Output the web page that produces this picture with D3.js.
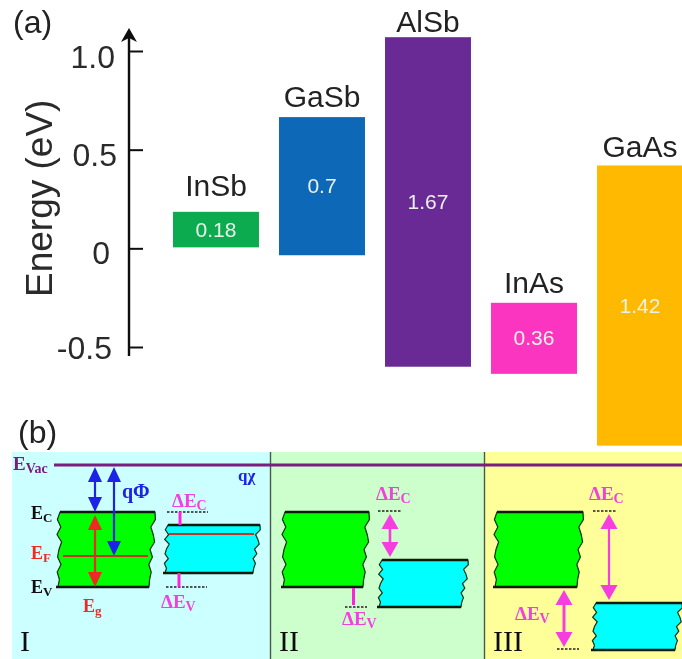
<!DOCTYPE html>
<html><head><meta charset="utf-8">
<script src="https://d3js.org/d3.v7.min.js"></script>
<style>html,body{margin:0;padding:0;background:#fff}svg{display:block}</style></head>
<body><svg id="c" width="682" height="659"></svg>
<script>
// (a) band alignment
const materials = ["InSb","GaSb","AlSb","InAs","GaAs"];
const valenceEdge = [0.005,-0.035,-0.6,-0.636,-1.0];
const bandGap = [0.18,0.7,1.67,0.36,1.42];
const gapLabels = ["0.18","0.7","1.67","0.36","1.42"];
const barColors = ["#0dab50","#0a68b8","#6a2c96","#fb35c0","#ffb900"];
const nameGaps = [16,10,5,10,8];
const energyTicks = [1.0,0.5,0,-0.5];
const energyTickLabels = ["1.0","0.5","0","-0.5"];
const tickNudgeX = [0,2,-5,-3];
const tickNudgeY = [2,1,0,-3];
// (b) heterojunction types (schematic levels, measured down from the top of the panel row)
const panelNames = ["I","II","III"];
const panelBounds = [12,271,485,682];
const panelColors = ["#ccffff","#ccffcc","#ffff99"];
const vacuumLevel = 13;
const wideTop = [60,60,60], wideBottom = [135,135,135];
const wideLeft = [60,285,497], wideRight = [155,369,583];
const narrowTop = [73,108,151], narrowBottom = [121,155,198];
const narrowLeft = [168,382,596], narrowRight = [260,468,682];
const roughA = [0,-2,1,-2,2,0,-1,2,-1,1,0];
const roughB = [0,1,-3,0,2,-2,1,-2,1,0,0];

const svg = d3.select("#c");
const defs = svg.append("defs");
defs.append("filter").attr("id","soft").attr("x",0).attr("y",0).attr("width","100%").attr("height","100%")
  .append("feGaussianBlur").attr("stdDeviation",0.55);
const root = svg.append("g").attr("filter","url(#soft)");
const SANS = "'Liberation Sans',Arial,sans-serif", SERIF = "'Liberation Serif','Times New Roman',serif";

// ---------- panel (a) ----------
const y = d3.scaleLinear().domain([1,-0.5]).range([51,347]);
const x = d3.scaleBand().domain(materials).range([173,683]).paddingInner(0.189).paddingOuter(0);
const a = root.append("g");
a.append("text").attr("x",13).attr("y",33).attr("font-family",SANS).attr("font-size",32).attr("fill","#222").text("(a)");

const bars = a.selectAll("g.bar").data(materials).join("g");
bars.append("rect").attr("x",d=>x(d)).attr("width",x.bandwidth())
  .attr("y",(d,i)=>y(valenceEdge[i]+bandGap[i]))
  .attr("height",(d,i)=>y(valenceEdge[i])-y(valenceEdge[i]+bandGap[i]))
  .attr("fill",(d,i)=>barColors[i]);
bars.append("text").attr("x",d=>x(d)+x.bandwidth()/2)
  .attr("y",(d,i)=>y(valenceEdge[i]+bandGap[i]/2)+7)
  .attr("text-anchor","middle").attr("font-family",SANS).attr("font-size",21)
  .attr("fill","#e8f2e8").text((d,i)=>gapLabels[i]);
bars.append("text").attr("x",d=>x(d)+x.bandwidth()/2)
  .attr("y",(d,i)=>y(valenceEdge[i]+bandGap[i])-nameGaps[i])
  .attr("text-anchor","middle").attr("font-family",SANS).attr("font-size",30)
  .attr("fill","#222").text(d=>d);

const axis = d3.axisRight(y).tickValues(energyTicks).tickSize(14)
  .tickFormat((d,i)=>energyTickLabels[i]);
const ag = a.append("g").attr("transform","translate(129,0)").call(axis);
ag.select(".domain").remove();
ag.selectAll(".tick line").attr("stroke","#111").attr("stroke-width",2);
ag.selectAll(".tick text").attr("x",(d,i)=>-14+tickNudgeX[i]).attr("y",(d,i)=>tickNudgeY[i]).attr("text-anchor","end")
  .attr("font-family",SANS).attr("font-size",32).attr("fill","#2a2a2a").attr("dy","0.46em");
a.append("line").attr("x1",129).attr("x2",129).attr("y1",35).attr("y2",356).attr("stroke","#111").attr("stroke-width",2.4);
a.append("path").attr("d",d3.line()([[129,28],[137,42],[129,38],[121,42]])+"Z").attr("fill","#111");
a.append("text").attr("transform","translate(52,297) rotate(-90)")
  .attr("font-family",SANS).attr("font-size",37).attr("fill","#2a2a2a").text("Energy (eV)");

// ---------- panel (b) ----------
const top0 = 452;
const yD = d3.scaleLinear().domain([0,207]).range([top0,659]);
const b = root.append("g");
b.append("text").attr("x",18).attr("y",443).attr("font-family",SANS).attr("font-size",32).attr("fill","#222").text("(b)");
b.selectAll("rect.p").data(panelNames).join("rect")
  .attr("x",(d,i)=>panelBounds[i]).attr("y",top0)
  .attr("width",(d,i)=>panelBounds[i+1]-panelBounds[i]).attr("height",207)
  .attr("fill",(d,i)=>panelColors[i]);
[1,2].forEach(i=>b.append("line").attr("x1",panelBounds[i]-0.5).attr("x2",panelBounds[i]-0.5)
  .attr("y1",top0).attr("y2",659).attr("stroke","#4a5a4a").attr("stroke-width",1.4));
b.selectAll("text.p").data(panelNames).join("text")
  .attr("x",(d,i)=>panelBounds[i]+8).attr("y",651)
  .attr("font-family",SERIF).attr("font-size",30).attr("fill","#111").text(d=>d);

const edge = d3.line().curve(d3.curveLinear);
function block(l,r,t,bt,fill,skewL,skewR){
  const n = roughA.length-1, pts=[];
  const T=yD(t),B=yD(bt),h=B-T;
  roughB.forEach((j,i)=>pts.push([r-skewR*i/n+j,T+h*i/n]));
  [...roughA].reverse().forEach((j,i)=>pts.push([l-skewL*(n-i)/n+j*1.2,B-h*i/n]));
  b.append("path").attr("d",edge(pts)+"Z").attr("fill",fill).attr("stroke","#0c300c").attr("stroke-width",1.2);
  b.append("line").attr("x1",l).attr("x2",r).attr("y1",T).attr("y2",T).attr("stroke","#0a1a0a").attr("stroke-width",2.4);
  b.append("line").attr("x1",l-skewL-2).attr("x2",r-skewR).attr("y1",B).attr("y2",B).attr("stroke","#0a1a0a").attr("stroke-width",2.4);
}
panelNames.forEach((d,i)=>{
  block(wideLeft[i],wideRight[i],wideTop[i],wideBottom[i],"#00ff00",2,6);
  block(narrowLeft[i],narrowRight[i],narrowTop[i],narrowBottom[i],"#00ffff",3,7);
});

function arrow(px,t,bt,col,lw,hw,hl){
  const T=yD(t),B=yD(bt);
  b.append("line").attr("x1",px).attr("x2",px).attr("y1",T+hl/2).attr("y2",B-hl/2)
    .attr("stroke",col).attr("stroke-width",lw);
  b.append("path").attr("d",edge([[px,T],[px+hw/2,T+hl],[px-hw/2,T+hl]])+"Z").attr("fill",col);
  b.append("path").attr("d",edge([[px,B],[px+hw/2,B-hl],[px-hw/2,B-hl]])+"Z").attr("fill",col);
}
function dash(x1,x2,lv){
  b.append("line").attr("x1",x1).attr("x2",x2).attr("y1",yD(lv)).attr("y2",yD(lv))
    .attr("stroke","#222").attr("stroke-width",1.6).attr("stroke-dasharray","2.5 1.5");
}
function tick(px,t,bt){
  b.append("line").attr("x1",px).attr("x2",px).attr("y1",yD(t)).attr("y2",yD(bt))
    .attr("stroke","#ff22dd").attr("stroke-width",3);
}
function lab(px,py,main,sub,col,fs,ss){
  const t=b.append("text").attr("x",px).attr("y",py).attr("font-family",SERIF).attr("font-weight","bold")
    .attr("font-size",fs).attr("fill",col);
  t.append("tspan").text(main);
  if(sub) t.append("tspan").attr("dy",3).attr("font-size",ss).text(sub);
}
const PINK="#f53ee0", BLUE="#1a22e6", RED="#ef2a20", PUR="#7a1a80";

// Panel I details
arrow(95,vacuumLevel+2,60,BLUE,2.2,14,15);
arrow(114,vacuumLevel+2,104,BLUE,2.2,14,15);
arrow(95,63,135,RED,2.2,14,15);
b.append("line").attr("x1",63).attr("x2",148).attr("y1",yD(104)).attr("y2",yD(104)).attr("stroke","#cc3322").attr("stroke-width",1.8);
b.append("line").attr("x1",169).attr("x2",254).attr("y1",yD(82)).attr("y2",yD(82)).attr("stroke","#cc3322").attr("stroke-width",1.8);
dash(167,208,60); dash(166,207,135);
tick(180,60,73); tick(179,121,135);
// Panel II details
arrow(390,62,105,PINK,2.6,17,15);
dash(378,401,59); dash(345,367,155);
tick(353.5,136,153);
// Panel III details
arrow(609,62,148,PINK,2.2,17,15);
arrow(564,138,195,PINK,3,17,15);
dash(593,616,59); dash(557,579,197);

// vacuum level
b.append("line").attr("x1",54).attr("x2",682).attr("y1",yD(vacuumLevel)).attr("y2",yD(vacuumLevel)).attr("stroke",PUR).attr("stroke-width",3);

lab(13,470,"E","Vac",PUR,19,14);
lab(31,519,"E","C","#111",18,13);
lab(31,559,"E","F",RED,18,13);
lab(31,593,"E","V","#111",18,13);
lab(83,612,"E","g",RED,18,13);
lab(122,498,"qΦ",null,BLUE,20);
lab(238,481,"qχ",null,BLUE,17);
lab(172,507,"ΔE","C",PINK,19,14);
lab(161,608,"ΔE","V",PINK,19,14);
lab(376,500,"ΔE","C",PINK,19,14);
lab(342,625,"ΔE","V",PINK,19,14);
lab(589,500,"ΔE","C",PINK,19,14);
lab(515,620,"ΔE","V",PINK,19,14);
</script></body></html>
